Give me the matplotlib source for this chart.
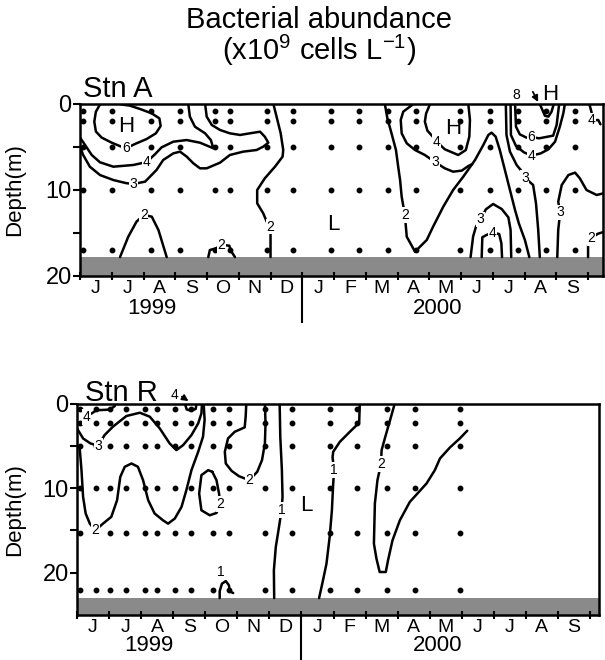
import matplotlib
matplotlib.use('Agg')
import matplotlib.pyplot as plt
import matplotlib.transforms as mtransforms

plt.rcParams['font.family'] = ['Liberation Sans', 'DejaVu Sans']

# axis labels
months = ['J', 'J', 'A', 'S', 'O', 'N', 'D', 'J', 'F', 'M', 'A', 'M', 'J', 'J', 'A', 'S']
years = ['1999', '2000']
year_pos = [2.25, 11.25]

# sampling times (months since 1 June 1999) and depths (m)
a_times = [0.1, 1.02, 2.23, 3.15, 4.25, 4.72, 5.88, 6.72, 7.92, 8.8, 9.69,
           10.58, 11.97, 12.9, 13.8, 14.69, 15.6]
a_depths = [0.8, 2, 5, 10, 17]
r_times = [0.08, 0.6, 1.02, 1.52, 2.11, 2.48, 3.07, 3.57, 4.24, 4.74, 5.86,
           6.7, 7.88, 8.74, 9.67, 10.54, 11.94]
r_depths = [0.7, 2.3, 5, 10, 15.3, 22]

# ---- Stn A isolines (month, depth) ----
a6_jun = [(0.63, 0.05), (0.5, 0.9), (0.45, 2.05), (0.5, 3.2), (0.68, 3.9), (1.0, 4.5),
          (1.26, 4.9), (1.45, 5.15), (1.73, 4.65), (2.1, 4.07), (2.39, 3.41), (2.54, 2.56),
          (2.5, 1.67), (2.26, 1.09), (1.89, 0.58), (1.57, 0.19), (1.3, 0.05)]
a4_jun = [(0.0, 3.9), (0.16, 4.77), (0.37, 5.93), (0.63, 6.78), (1.05, 7.29), (1.68, 7.09),
          (2.1, 6.75), (2.36, 5.85), (2.57, 5.04), (2.94, 4.38), (3.36, 4.19), (3.78, 4.5),
          (4.2, 5.15), (4.12, 4.19), (3.94, 3.41), (3.62, 2.64), (3.46, 1.47), (3.41, 0.0)]
a3_jun = [(0.0, 4.96), (0.1, 5.93), (0.31, 7.29), (0.63, 8.26), (1.05, 8.84), (1.45, 9.2),
          (1.68, 9.3), (2.05, 9.03), (2.41, 7.67), (2.62, 6.51), (2.94, 5.74), (3.15, 5.54),
          (3.36, 6.12), (3.57, 6.9), (3.78, 7.48), (3.99, 7.48), (4.41, 6.82), (4.72, 5.93),
          (5.14, 5.54), (5.56, 5.35), (5.77, 4.96), (5.93, 4.5), (5.82, 3.8), (5.67, 3.22),
          (5.35, 3.41), (5.04, 3.6), (4.72, 3.41), (4.41, 3.02), (4.15, 2.44), (3.99, 1.47),
          (3.94, 0.0)]
a2_jul = [(1.26, 17.8), (1.52, 15.43), (1.78, 13.68), (2.01, 12.9), (2.26, 13.1),
          (2.47, 14.65), (2.73, 17.8)]
a2_oct = [(4.04, 17.8), (4.09, 16.98), (4.28, 16.78), (4.46, 16.4), (4.7, 16.47),
          (4.77, 17.17), (4.88, 17.8)]
a2_dec = [(6.09, 0.0), (6.19, 1.47), (6.32, 3.41), (6.4, 5.35), (6.38, 6.12), (6.14, 7.29),
          (5.82, 8.64), (5.58, 10.0), (5.58, 11.55), (5.77, 12.71), (5.88, 13.68),
          (6.0, 14.26), (6.0, 15.04), (6.0, 17.8)]
a2_spr = [(9.6, 0.0), (9.68, 1.67), (9.81, 3.41), (9.95, 5.35), (10.02, 7.29), (10.08, 8.84),
          (10.13, 10.78), (10.23, 12.9), (10.29, 15.43), (10.55, 17.17), (10.92, 15.81),
          (11.12, 14.26), (11.44, 11.94), (11.75, 10.0), (12.07, 8.45), (12.44, 6.51),
          (12.7, 4.77), (12.86, 3.6), (12.96, 3.33), (13.09, 3.8), (13.22, 5.35),
          (13.38, 7.67), (13.54, 10.0), (13.7, 12.33), (13.82, 13.88), (14.01, 15.81),
          (14.15, 17.8)]
a3_may = [(10.5, 0.0), (10.18, 0.89), (10.1, 1.86), (10.13, 3.41), (10.29, 4.57),
          (10.55, 5.35), (10.86, 5.93), (11.18, 6.75), (11.49, 7.48), (11.75, 7.87),
          (12.02, 7.75), (12.23, 7.21), (12.35, 7.0)]
a4_may = [(11.02, 0.05), (10.9, 1.09), (10.86, 2.05), (10.94, 3.1), (11.13, 3.88),
          (11.23, 4.38), (11.49, 5.27), (11.91, 5.93), (12.15, 5.35), (12.26, 3.8),
          (12.28, 1.86), (12.23, 0.05)]
a3_jun00 = [(12.3, 17.8), (12.38, 15.4), (12.47, 14.26), (12.62, 13.4), (12.78, 12.25),
            (13.01, 11.63), (13.28, 12.21), (13.49, 13.18), (13.56, 14.65), (13.58, 17.8)]
a4_jun00 = [(12.65, 17.8), (12.67, 15.5), (12.8, 15.23), (12.99, 14.96), (13.2, 15.12),
            (13.27, 16.2), (13.29, 17.8)]
a3_jul = [(13.41, 0.0), (13.43, 3.6), (13.54, 5.54), (13.75, 7.09), (13.94, 7.95),
          (14.01, 8.57), (14.27, 9.42), (14.36, 11.55), (14.43, 14.65), (14.48, 17.8)]
a4_jul = [(13.56, 0.0), (13.57, 3.6), (13.73, 4.88), (13.98, 5.62), (14.22, 6.0),
          (14.51, 5.74), (14.75, 5.27), (14.96, 4.38), (15.11, 2.64), (15.22, 1.09),
          (15.27, 0.0)]
a6_jul = [(13.7, 0.0), (13.73, 2.64), (13.85, 3.53), (14.06, 3.91), (14.22, 3.85),
          (14.46, 3.99), (14.9, 3.68), (15.01, 2.44), (15.06, 0.89), (15.09, 0.0)]
a8_aug = [(14.48, 0.0), (14.64, 1.36), (14.75, 1.47), (14.85, 0.89), (14.92, 0.0)]
a4_sep = [(16.04, 0.0), (16.11, 0.97), (16.12, 1.9), (16.32, 1.86), (16.39, 2.36)]
a3_sep = [(15.03, 17.8), (15.06, 14.65), (15.12, 12.6), (15.06, 11.36), (15.17, 9.42),
          (15.38, 8.26), (15.59, 7.98), (15.74, 8.64), (15.95, 10.0), (16.27, 10.58),
          (16.47, 10.4)]
a2_sep = [(16.0, 17.8), (16.0, 16.4), (16.11, 15.6), (16.3, 15.1), (16.47, 14.9)]

a_lines = [a6_jun, a4_jun, a3_jun, a2_jul, a2_oct, a2_dec, a2_spr, a3_may, a4_may,
           a3_jun00, a4_jun00, a3_jul, a4_jul, a6_jul, a8_aug, a4_sep, a3_sep, a2_sep]
a_labels = [(1.45, 5.15, '6'), (2.1, 6.75, '4'), (1.68, 9.3, '3'), (2.01, 12.9, '2'),
            (4.46, 16.4, '2'), (6.0, 14.26, '2'), (10.23, 12.9, '2'), (11.18, 6.75, '3'),
            (11.23, 4.38, '4'), (12.62, 13.4, '3'), (12.99, 14.96, '4'), (14.01, 8.57, '3'),
            (14.22, 6.0, '4'), (14.22, 3.85, '6'), (16.12, 1.9, '4'), (15.12, 12.6, '3'),
            (16.11, 15.6, '2')]
a_marks = [(1.45, 2.64, 'H'), (11.75, 2.83, 'H'), (7.97, 14.0, 'L')]

# ---- Stn R isolines ----
r4_jun = [(0.45, 1.2), (0.6, 0.8), (1.02, 0.72), (1.18, 0.3)]
r4_sep = [(3.38, 0.2), (3.42, 0.7), (3.55, 0.85), (3.7, 0.65), (3.72, 0.2)]
r3 = [(0.0, 2.94), (0.19, 4.13), (0.42, 4.72), (0.66, 5.0), (0.86, 3.73), (1.12, 2.74),
      (1.54, 1.48), (1.96, 1.09), (2.27, 1.56), (2.58, 2.94), (2.89, 4.72), (3.1, 5.51),
      (3.31, 4.92), (3.57, 3.73), (3.78, 2.35), (3.88, 1.17), (3.9, 0.0)]
r2 = [(0.08, 5.11), (0.14, 7.88), (0.19, 11.04), (0.27, 13.0), (0.4, 14.2), (0.57, 15.0),
      (0.81, 14.2), (1.07, 13.4), (1.25, 11.43), (1.35, 8.67), (1.49, 7.48), (1.7, 7.09),
      (1.9, 7.48), (2.06, 9.06), (2.22, 11.43), (2.42, 13.0), (2.68, 13.8), (2.84, 14.2),
      (3.05, 13.6), (3.26, 12.22), (3.41, 10.25), (3.57, 7.88), (3.78, 5.7), (3.93, 3.93),
      (3.98, 1.95), (3.95, 0.0)]
r2_oct = [(4.22, 8.08), (4.09, 7.88), (3.88, 8.47), (3.81, 10.64), (3.88, 12.62),
          (4.14, 13.21), (4.35, 12.94), (4.47, 11.9), (4.43, 10.64), (4.35, 9.06),
          (4.22, 8.08)]
r2_nov = [(5.28, 0.0), (5.26, 1.56), (5.23, 2.82), (4.92, 3.34), (4.71, 4.13), (4.61, 5.71),
          (4.64, 7.09), (4.82, 7.96), (5.05, 8.59), (5.37, 9.06), (5.62, 8.08), (5.77, 6.69),
          (5.86, 4.72), (5.88, 2.35), (5.86, 0.0)]
r1_oct = [(4.45, 23.0), (4.45, 22.18), (4.52, 21.3), (4.64, 20.99), (4.74, 21.5),
          (4.76, 22.2), (4.87, 22.4)]
r1_dec = [(6.32, 0.0), (6.34, 3.93), (6.39, 7.88), (6.41, 11.04), (6.38, 12.6), (6.3, 14.59),
          (6.2, 16.96), (6.14, 19.73), (6.15, 23.0)]
r1_jan = [(8.82, 0.0), (8.8, 2.27), (8.51, 3.34), (8.2, 4.52), (7.99, 5.71), (7.97, 6.38),
          (8.02, 7.88), (7.99, 9.46), (7.95, 12.62), (7.88, 15.78), (7.78, 18.94),
          (7.66, 21.11), (7.55, 23.0)]
r2_mar = [(9.91, 0.0), (9.78, 1.76), (9.63, 3.73), (9.5, 5.51), (9.48, 7.17), (9.37, 9.06),
          (9.29, 11.83), (9.26, 16.57), (9.34, 18.35), (9.44, 19.92), (9.63, 19.92),
          (9.7, 18.54), (9.84, 16.17), (10.07, 13.8), (10.38, 11.63), (10.9, 9.46),
          (11.16, 7.88), (11.32, 6.5), (11.63, 5.2), (11.94, 4.13), (12.17, 3.22)]

r_lines = [r4_jun, r4_sep, r3, r2, r2_oct, r2_nov, r1_oct, r1_dec, r1_jan, r2_mar]
r_labels = [(0.29, 1.6, '4'), (0.66, 5.0, '3'), (0.57, 15.0, '2'), (4.47, 11.9, '2'),
            (5.37, 9.06, '2'), (6.38, 12.6, '1'), (4.5, 19.9, '1'), (8.02, 7.88, '1'),
            (9.48, 7.17, '2')]
r_marks = [(7.14, 12.0, 'L')]


def draw_panel(ax, lines, labels, marks, times, depths, ymax, seabed, xmax, ylab_x, yr_y, div_y):
    ax.set_xlim(0, xmax)
    ax.set_ylim(ymax, 0)
    ax.axhspan(seabed, ymax, color='#8a8a8a', lw=0, zorder=1)
    for t in times:
        ax.plot([t] * len(depths), depths, 'o', ms=3.2, color='k', zorder=2)
    for ln in lines:
        xs = [p[0] for p in ln]
        ys = [p[1] for p in ln]
        ax.plot(xs, ys, color='k', lw=1.8, solid_joinstyle='round',
                solid_capstyle='round', zorder=3)
    for x, y, s in labels:
        ax.text(x, y, s, fontsize=10, ha='center', va='center', zorder=4,
                bbox=dict(boxstyle='square,pad=0.05', fc='white', ec='none'))
    for x, y, s in marks:
        ax.text(x, y, s, fontsize=16, ha='center', va='center', zorder=4)

    for sp in ax.spines.values():
        sp.set_linewidth(1.8)
    ax.set_xticks(range(17))
    ax.set_xticklabels([])
    ax.set_xticks([m + 0.5 for m in range(16)], minor=True)
    ax.set_xticklabels(months, minor=True, fontsize=14)
    ax.tick_params(axis='x', which='major', direction='inout', length=6, width=1.5)
    ax.tick_params(axis='x', which='minor', length=0, pad=3)
    ax.set_yticks([0, 10, 20])
    ax.set_yticks([5, 15], minor=True)
    ax.tick_params(axis='y', which='both', direction='out', length=5, width=1.5,
                   labelsize=17, pad=1)
    ax.set_ylabel('Depth(m)', fontsize=16)
    ax.yaxis.set_label_coords(ylab_x, 0.5)

    trans = mtransforms.blended_transform_factory(ax.transData, ax.transAxes)
    for x, s in zip(year_pos, years):
        ax.text(x, yr_y, s, transform=trans, fontsize=16, ha='center', va='center')
    ax.plot([7, 7], [0, div_y], transform=trans, color='k', lw=1.5, clip_on=False)


fig = plt.figure(figsize=(6.05, 6.6), dpi=100)
ax_a = fig.add_axes([80 / 605, 1 - 276 / 660, 523 / 605, 172 / 660])
ax_r = fig.add_axes([77 / 605, 1 - 615 / 660, 522 / 605, 211.5 / 660])

draw_panel(ax_a, a_lines, a_labels, a_marks, a_times, a_depths, 20, 17.8, 16.47,
           -0.105, -0.19, -0.27)
draw_panel(ax_r, r_lines, r_labels, r_marks, r_times, r_depths, 25, 23, 16.28,
           -0.1, -0.142, -0.22)

# annotations above the axes
ax_a.text(0.005, 1.04, 'Stn A', transform=ax_a.transAxes, fontsize=21, va='baseline')
ax_r.text(0.015, 1.012, 'Stn R', transform=ax_r.transAxes, fontsize=21, va='baseline')
ax_a.text(13.73, -1.05, '8', fontsize=10, ha='center', va='center', clip_on=False)
ax_a.text(14.82, -1.1, 'H', fontsize=16, ha='center', va='center', clip_on=False)
ax_a.annotate('', xy=(14.47, 0.05), xytext=(14.22, -1.7), annotation_clip=False,
              arrowprops=dict(arrowstyle='-|>', lw=1.3, color='k', mutation_scale=9))
ax_r.text(3.05, -0.95, '4', fontsize=10, ha='center', va='center', clip_on=False)
ax_r.annotate('', xy=(3.55, -0.1), xytext=(3.2, -1.0), annotation_clip=False,
              arrowprops=dict(arrowstyle='-|>', lw=1.3, color='k', mutation_scale=9))

fig.text(0.527, 1 - 20 / 660, 'Bacterial abundance', fontsize=21, ha='center', va='center')
fig.text(0.527, 1 - 50 / 660, r'(x10$^{\mathregular{9}}$ cells L$^{\mathregular{-1}}$)',
         fontsize=21, ha='center', va='center')

fig.savefig('out.png', dpi=100)
